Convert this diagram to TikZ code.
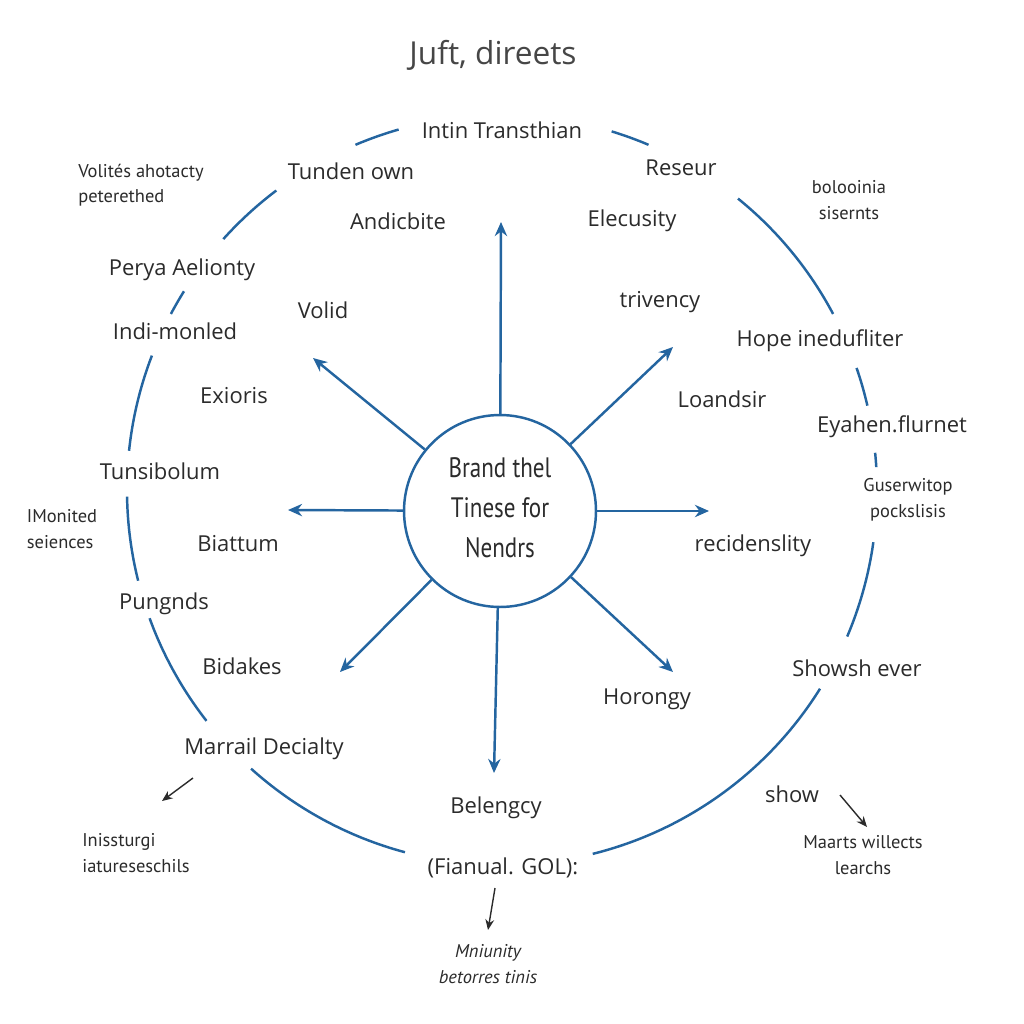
\documentclass[tikz,border=0pt]{standalone}
\usepackage{fontspec}
\setmainfont{Open Sans}
\newfontfamily\narrowfont{PT Sans}
\usetikzlibrary{arrows.meta}

\definecolor{ringblue}{HTML}{2465A0}
\definecolor{inkgray}{HTML}{2B2B2B}
\definecolor{titlegray}{HTML}{464646}

\begin{document}
\begin{tikzpicture}[x=0.02cm,y=-0.02cm,
  lbl/.style={font=\fontsize{12.5}{15}\selectfont,text=inkgray},
  note/.style={font=\narrowfont\fontsize{10.5}{14.5}\selectfont,text=inkgray,align=center},
  spoke/.style={draw=ringblue,line width=1.4pt,-{Stealth[length=8pt,width=7pt]}},
  ring/.style={draw=ringblue,line width=1.4pt},
  pointer/.style={draw=inkgray,line width=0.8pt,-{Stealth[length=6pt,width=5pt]}}]
\useasboundingbox[fill=white] (0,0) rectangle (1024,1024);

% title
\node[font=\fontsize{18}{22}\selectfont,text=titlegray] (title) at (493,55) {Juft, direets};

% outer ring, broken where the labels sit
\coordinate (ringc) at (502,490);
\foreach \a/\b in {106/113,67/73,28/51,13/19,3.5/5.7,-23/-8,-76/-32,228/255,200/218,181/194,159/174,148/152,127/138}
  \draw[ring] (ringc) ++(-\a:375) arc[start angle=-\a,end angle=-\b,radius=375];

% hub
\node[circle,draw=ringblue,line width=1.4pt,minimum size=3.84cm,inner sep=0pt] (hub) at (500,511) {};
\node[font=\narrowfont\fontsize{16}{22.7}\selectfont,text=inkgray,xscale=0.82,align=center] (hubtext) at (500,508) {Brand thel\\Tinese for\\Nendrs};

% spoke tips
\coordinate (tipN) at (501,222);
\coordinate (tipNE) at (673,347);
\coordinate (tipE) at (709,511);
\coordinate (tipSE) at (673,672);
\coordinate (tipS) at (494,773);
\coordinate (tipSW) at (340,672);
\coordinate (tipW) at (288,510);
\coordinate (tipNW) at (313,358);
\foreach \t in {N,NE,E,SE,S,SW,W,NW}
  \draw[spoke] (hub) -- (tip\t);

% labels on the ring
\node[lbl] (intin) at (502,130) {Intin Transthian};
\node[lbl] (tunden) at (351,171) {Tunden own};
\node[lbl] (reseur) at (681,168) {Reseur};
\node[lbl] (perya) at (182,270) {Perya Aelionty};
\node[lbl] (indi) at (175,331) {Indi-monled};
\node[lbl] (hope) at (820,341) {Hope inedufliter};
\node[lbl] (eyahen) at (892,427) {Eyahen.flurnet};
\node[lbl] (tunsib) at (160,471) {Tunsibolum};
\node[lbl] (pungnds) at (164,604) {Pungnds};
\node[lbl] (showsh) at (857,668) {Showsh ever};
\node[lbl] (marrail) at (264,749) {Marrail Decialty};
\node[lbl] (fianual) at (503,868) {(Fianual. GOL):};

% labels inside the ring
\node[lbl] (andic) at (398,221) {Andicbite};
\node[lbl] (elecus) at (632,221) {Elecusity};
\node[lbl] (volid) at (323,310) {Volid};
\node[lbl] (trivency) at (660,302) {trivency};
\node[lbl] (exioris) at (234,396) {Exioris};
\node[lbl] (loandsir) at (722,399) {Loandsir};
\node[lbl] (biattum) at (238,544) {Biattum};
\node[lbl] (reciden) at (753,546) {recidenslity};
\node[lbl] (bidakes) at (242,666) {Bidakes};
\node[lbl] (horongy) at (647,699) {Horongy};
\node[lbl] (belengcy) at (496,808) {Belengcy};
\node[lbl] (show) at (792,794) {show};

% notes outside the ring
\node[note,align=left] (volites) at (141,185) {Volités ahotacty\\peterethed};
\node[note] (bolooinia) at (849,200) {bolooinia\\sisernts};
\node[note] (guserw) at (908,500) {Guserwitop\\pockslisis};
\node[note,align=left] (monited) at (62,529) {IMonited\\seiences};
\node[note,align=left] (inissturgi) at (136,853) {Inissturgi\\iatureseschils};
\node[note] (maarts) at (863,855) {Maarts willects\\learchs};
\node[note,font=\narrowfont\itshape\fontsize{10.5}{14.5}\selectfont] (mniunity) at (488,964) {Mniunity\\betorres tinis};

% small pointers
\coordinate (mdtail) at (193,778);
\coordinate (mdhead) at (162,801);
\coordinate (fgtail) at (495,888);
\coordinate (fghead) at (488,930);
\coordinate (shtail) at (840,795);
\coordinate (shhead) at (867,827);
\draw[pointer] (mdtail) -- (mdhead);
\draw[pointer] (fgtail) -- (fghead);
\draw[pointer] (shtail) -- (shhead);
\end{tikzpicture}
\end{document}
